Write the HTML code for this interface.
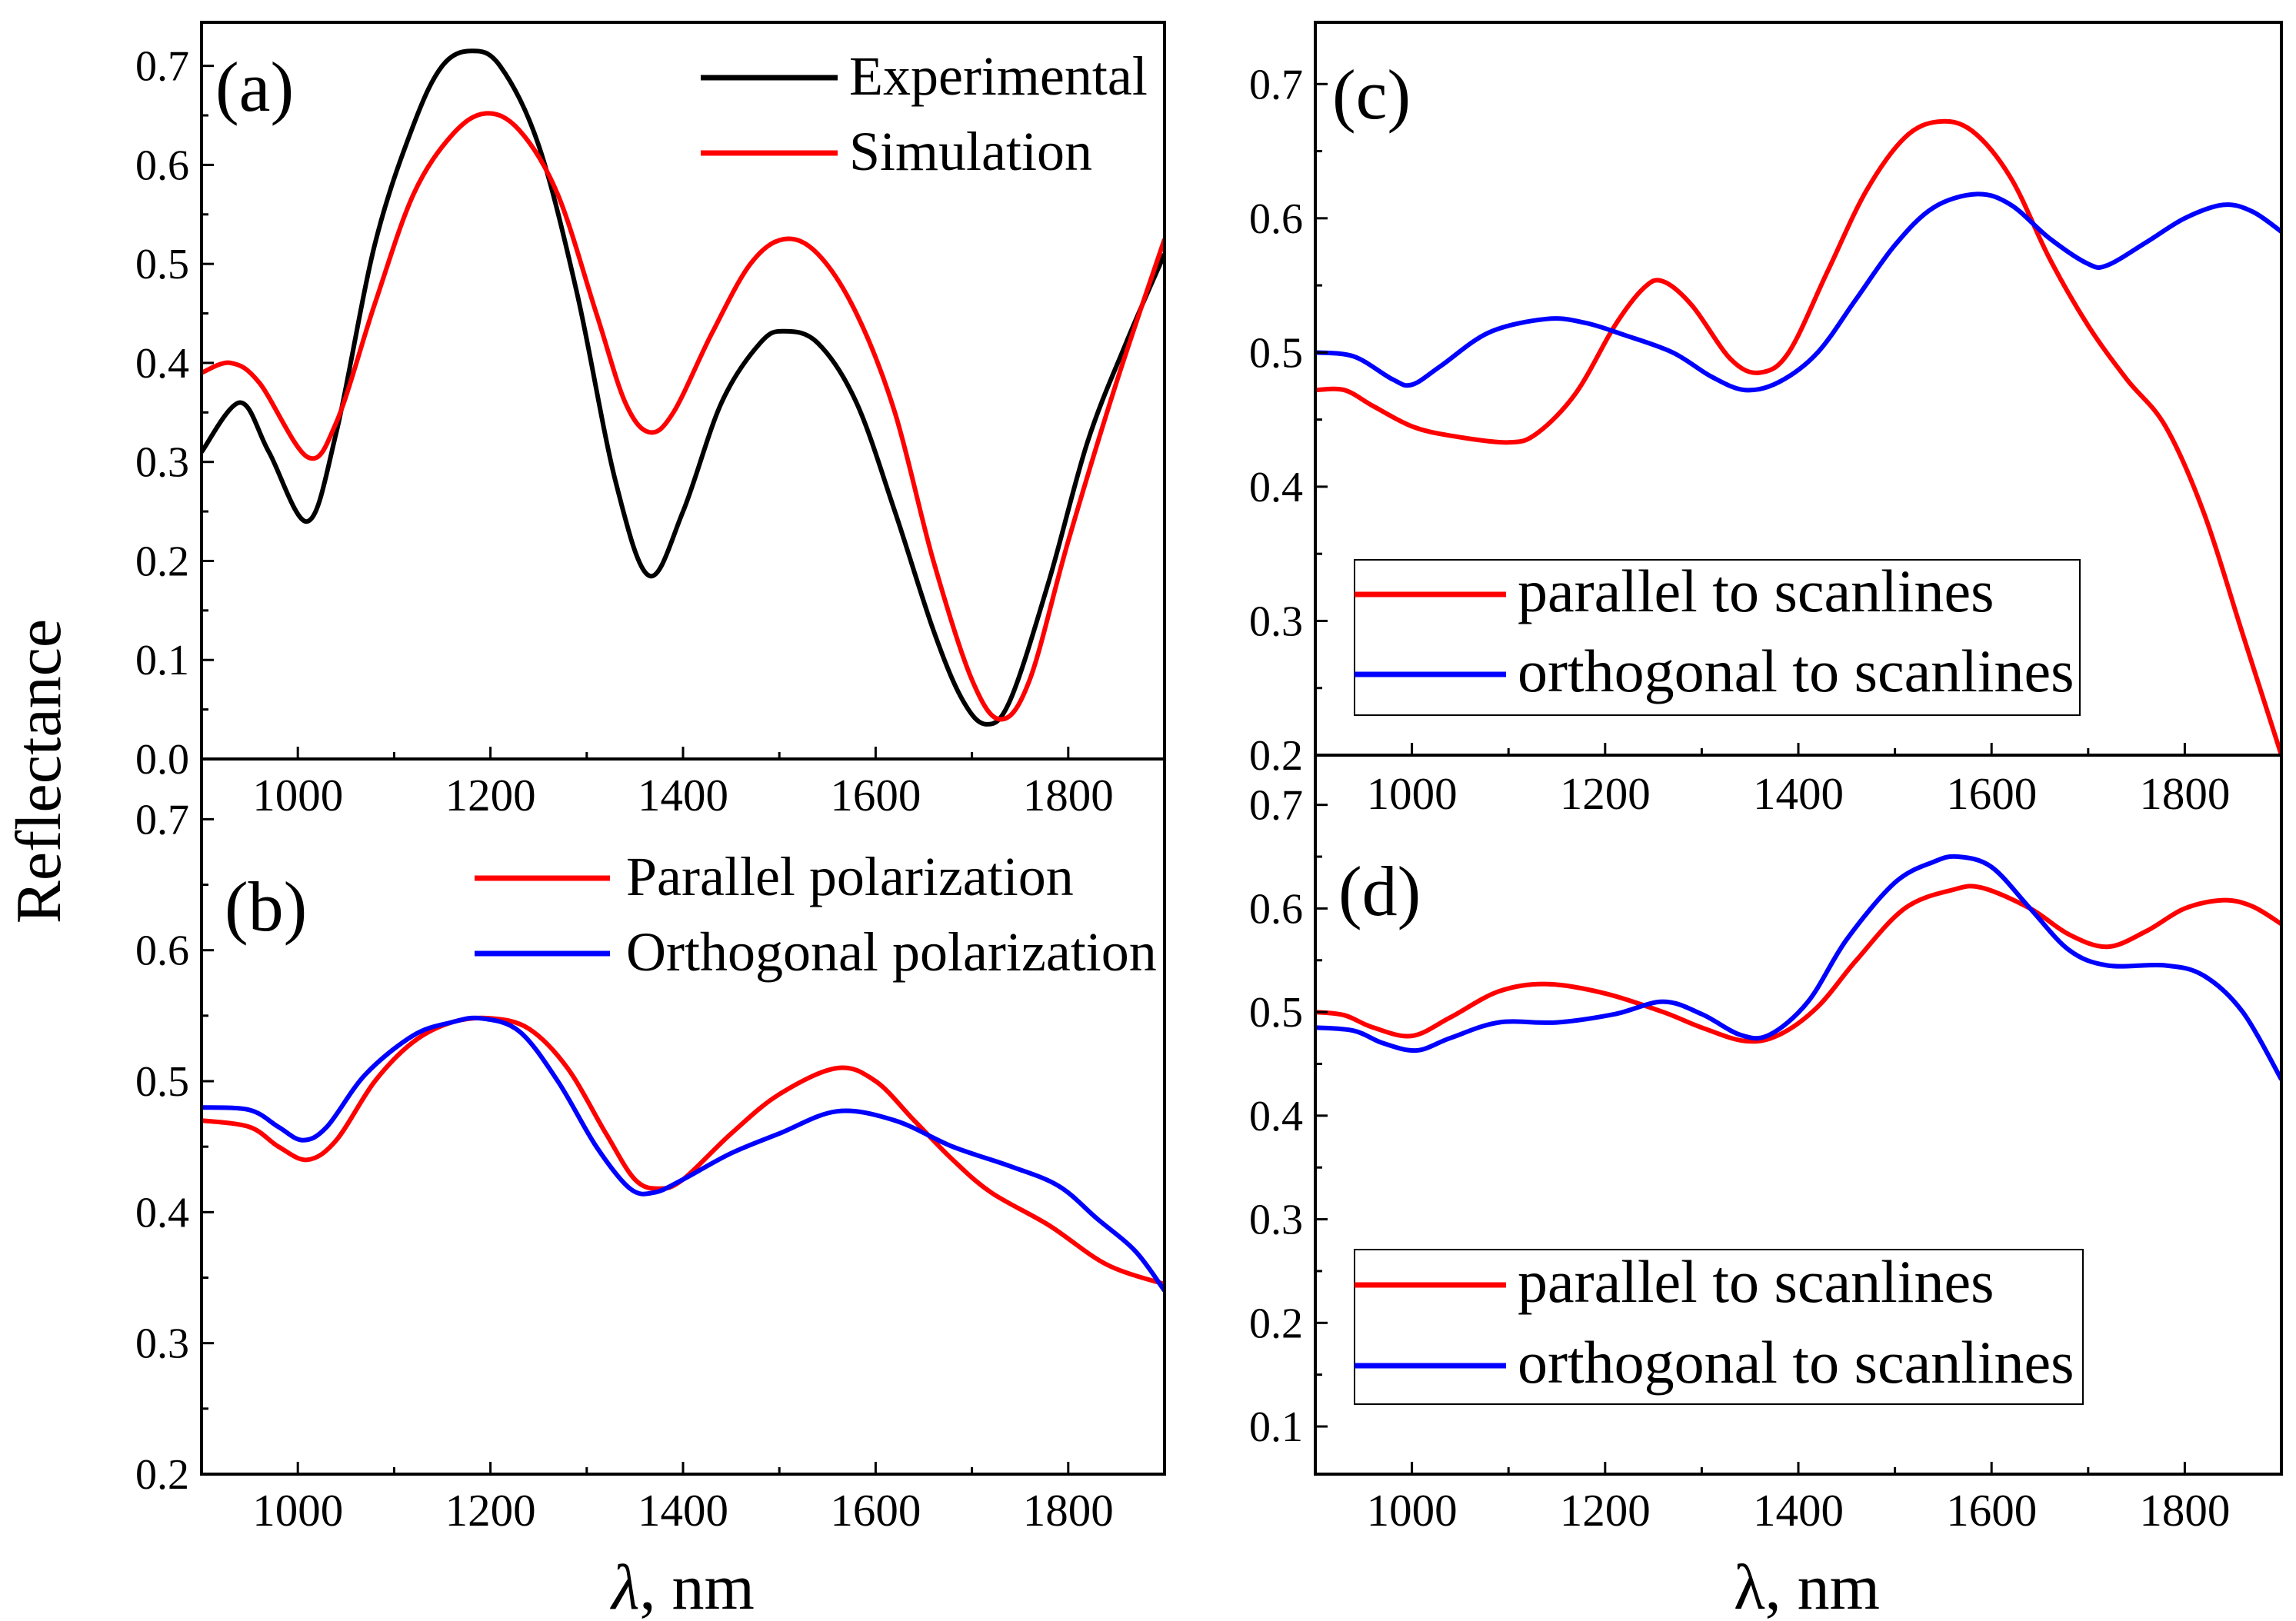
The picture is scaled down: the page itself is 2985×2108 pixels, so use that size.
<!DOCTYPE html>
<html><head><meta charset="utf-8"><style>
html,body{margin:0;padding:0;background:#fff}
svg{display:block}
text{font-family:"Liberation Serif",serif;fill:#000}
</style></head><body>
<svg id="chart" width="2985" height="2108" viewBox="0 0 2985 2108" xmlns="http://www.w3.org/2000/svg">
<text x="0" y="0" font-size="84" text-anchor="middle" transform="translate(78,1003) rotate(-90)">Reflectance</text>
<text x="888" y="2092" font-size="84" text-anchor="middle"><tspan font-style="italic">λ</tspan>, nm</text>
<text x="2349" y="2092" font-size="84" text-anchor="middle">λ, nm</text>
</svg>
<script>
// ---- data ----
const aExpX=[900,940,970,1010,1040,1080,1120,1150,1180,1210,1250,1290,1330,1365,1400,1440,1480,1505,1540,1580,1620,1660,1690,1715,1740,1780,1820,1860,1900];
const aExpY=[0.31,0.36,0.31,0.24,0.33,0.52,0.64,0.70,0.715,0.70,0.62,0.47,0.28,0.185,0.25,0.36,0.42,0.432,0.42,0.36,0.25,0.13,0.06,0.035,0.06,0.18,0.32,0.42,0.51];
const aSimX=[900,930,960,1010,1040,1080,1120,1160,1195,1230,1270,1310,1340,1365,1390,1430,1470,1505,1540,1580,1620,1660,1700,1730,1760,1800,1850,1900];
const aSimY=[0.39,0.40,0.38,0.305,0.34,0.46,0.57,0.63,0.652,0.635,0.57,0.45,0.36,0.33,0.35,0.43,0.50,0.525,0.51,0.45,0.35,0.20,0.08,0.04,0.08,0.22,0.38,0.525];
const bParX=[900,950,980,1010,1040,1080,1120,1160,1200,1240,1280,1320,1350,1375,1400,1450,1500,1560,1600,1640,1680,1720,1780,1840,1900];
const bParY=[0.47,0.465,0.45,0.44,0.455,0.50,0.53,0.545,0.548,0.54,0.51,0.46,0.425,0.418,0.425,0.46,0.49,0.51,0.50,0.47,0.44,0.415,0.39,0.36,0.345];
const bOrtX=[900,950,980,1005,1030,1070,1120,1160,1190,1230,1270,1310,1345,1370,1400,1450,1500,1560,1620,1680,1740,1790,1830,1870,1900];
const bOrtY=[0.48,0.478,0.465,0.455,0.465,0.505,0.535,0.545,0.548,0.538,0.50,0.45,0.418,0.415,0.425,0.445,0.46,0.477,0.47,0.45,0.435,0.42,0.395,0.37,0.34];
const cParX=[900,930,960,1000,1040,1100,1130,1170,1210,1240,1260,1290,1330,1360,1390,1430,1470,1510,1545,1580,1620,1660,1700,1740,1780,1820,1860,1900];
const cParY=[0.472,0.472,0.46,0.445,0.438,0.433,0.44,0.47,0.52,0.548,0.553,0.535,0.495,0.485,0.5,0.56,0.62,0.66,0.672,0.665,0.63,0.57,0.52,0.48,0.445,0.38,0.29,0.2];
const cOrtX=[900,940,980,1000,1030,1080,1140,1180,1220,1270,1310,1345,1380,1420,1460,1500,1540,1585,1620,1660,1700,1720,1760,1800,1840,1870,1900];
const cOrtY=[0.5,0.497,0.48,0.476,0.49,0.515,0.525,0.522,0.513,0.5,0.482,0.472,0.478,0.5,0.54,0.58,0.608,0.618,0.61,0.585,0.566,0.565,0.582,0.6,0.61,0.605,0.59];
const dParX=[900,930,960,1000,1040,1090,1140,1200,1260,1300,1345,1380,1420,1460,1510,1560,1590,1640,1680,1720,1760,1800,1840,1870,1900];
const dParY=[0.5,0.497,0.485,0.477,0.495,0.52,0.527,0.518,0.5,0.485,0.472,0.478,0.505,0.55,0.6,0.618,0.62,0.6,0.575,0.563,0.578,0.6,0.608,0.602,0.585];
const dOrtX=[900,940,970,1005,1040,1090,1150,1210,1260,1300,1340,1370,1410,1450,1500,1540,1565,1600,1640,1680,1720,1780,1820,1860,1900];
const dOrtY=[0.485,0.482,0.47,0.463,0.475,0.49,0.49,0.498,0.51,0.498,0.478,0.478,0.51,0.57,0.625,0.645,0.65,0.64,0.6,0.56,0.545,0.545,0.535,0.5,0.435];
const xTicks=[1000,1200,1400,1600,1800];
const yTicksA=[0,0.1,0.2,0.3,0.4,0.5,0.6,0.7];
const yTicksB=[0.2,0.3,0.4,0.5,0.6,0.7];
const yTicksC=[0.2,0.3,0.4,0.5,0.6,0.7];
const yTicksD=[0.1,0.2,0.3,0.4,0.5,0.6,0.7];

const NS='http://www.w3.org/2000/svg';
const svg=document.getElementById('chart');
function mk(tag,attrs,parent){const e=document.createElementNS(NS,tag);for(const k in attrs)e.setAttribute(k,attrs[k]);(parent||svg).appendChild(e);return e;}
function smooth(pts){let d='M'+pts[0][0].toFixed(1)+','+pts[0][1].toFixed(1);
 for(let i=0;i<pts.length-1;i++){const p0=pts[Math.max(0,i-1)],p1=pts[i],p2=pts[i+1],p3=pts[Math.min(pts.length-1,i+2)];
  const c1=[p1[0]+(p2[0]-p0[0])/6,p1[1]+(p2[1]-p0[1])/6],c2=[p2[0]-(p3[0]-p1[0])/6,p2[1]-(p3[1]-p1[1])/6];
  d+='C'+c1[0].toFixed(1)+','+c1[1].toFixed(1)+' '+c2[0].toFixed(1)+','+c2[1].toFixed(1)+' '+p2[0].toFixed(1)+','+p2[1].toFixed(1);}
 return d;}
function panel(p){
 const g=mk('g',{});
 
 
 const sx=v=>p.x0+(v-900)/1000*(p.x1-p.x0);
 const sy=v=>p.y1-(v-p.ymin)/(p.ymax-p.ymin)*(p.y1-p.y0);
 const cp=mk('clipPath',{id:'clip'+p.id},g);mk('rect',{x:p.x0,y:p.y0,width:p.x1-p.x0,height:p.y1-p.y0},cp);
 if(p.box){const b=mk('rect',{x:p.box[0],y:p.box[1],width:p.box[2],height:p.box[3],fill:'#fff',stroke:'#000','stroke-width':2},g);
  
  }
 p.series.forEach(s=>{
  const pts=s.x.map((v,i)=>[sx(v),sy(s.y[i])]);
  const path=mk('path',{d:smooth(pts),fill:'none',stroke:s.c,'stroke-width':6,'clip-path':'url(#clip'+p.id+')'},g);
  
  
 });
 const fr=mk('rect',{x:p.x0,y:p.y0,width:p.x1-p.x0,height:p.y1-p.y0,fill:'none',stroke:'#000','stroke-width':4},g);
 
 
 for(let v=900;v<=1900;v+=100){const X=sx(v),L=(v%200===0)?16:9;mk('line',{x1:X,x2:X,y1:p.y1,y2:p.y1-L,stroke:'#000','stroke-width':3},g);}
 xTicks.forEach(v=>{const t=mk('text',{x:sx(v),y:p.xlabY,'font-size':59,'text-anchor':'middle'},g);t.textContent=v;
  
  });
 for(let v=p.ticks[0];v<=p.ymax+1e-9;v+=0.05){const Y=sy(v);const maj=Math.abs(Math.round(v*10)-v*10)<1e-6;mk('line',{x1:p.x0,x2:p.x0+(maj?16:9),y1:Y,y2:Y,stroke:'#000','stroke-width':3},g);}
 p.ticks.forEach(v=>{const t=mk('text',{x:p.x0-16,y:sy(v)+19,'font-size':56,'text-anchor':'end'},g);t.textContent=v.toFixed(1);
  
  });
 const lab=mk('text',{x:p.lx,y:p.ly,'font-size':92},g);lab.textContent='('+p.id+')';
 
 
 p.series.forEach((s,i)=>{const Y=p.leg.y[i];
  const l=mk('line',{x1:p.leg.x1,x2:p.leg.x2,y1:Y,y2:Y,stroke:s.c,'stroke-width':7},g);
  
  
  const t=mk('text',{x:p.leg.tx,y:Y+22,'font-size':p.leg.fs},g);t.textContent=s.label;
  
  });
}
panel({id:'a',x0:262,x1:1514,y0:29,y1:987,ymin:0,ymax:0.744,ticks:yTicksA,xlabY:1054,lx:280,ly:144,
 series:[{n:'experimental',x:aExpX,y:aExpY,c:'#000',label:'Experimental'},{n:'simulation',x:aSimX,y:aSimY,c:'#f00',label:'Simulation'}],
 leg:{x1:911,x2:1089,tx:1104,y:[101,199],fs:72}});
panel({id:'b',x0:262,x1:1514,y0:987,y1:1917,ymin:0.2,ymax:0.746,ticks:yTicksB,xlabY:1984,lx:292,ly:1210,
 series:[{n:'parallel-polarization',x:bParX,y:bParY,c:'#f00',label:'Parallel polarization'},{n:'orthogonal-polarization',x:bOrtX,y:bOrtY,c:'#00f',label:'Orthogonal polarization'}],
 leg:{x1:617,x2:793,tx:814,y:[1142,1240],fs:72}});
panel({id:'c',x0:1710,x1:2966,y0:29,y1:982,ymin:0.2,ymax:0.746,ticks:yTicksC,xlabY:1052,lx:1732,ly:154,box:[1761,728,943,202],
 series:[{n:'parallel-to-scanlines-c',x:cParX,y:cParY,c:'#f00',label:'parallel to scanlines'},{n:'orthogonal-to-scanlines-c',x:cOrtX,y:cOrtY,c:'#00f',label:'orthogonal to scanlines'}],
 leg:{x1:1761,x2:1958,tx:1973,y:[773,877],fs:78}});
panel({id:'d',x0:1710,x1:2966,y0:982,y1:1917,ymin:0.054,ymax:0.748,ticks:yTicksD,xlabY:1984,lx:1740,ly:1190,box:[1761,1625,947,201],
 series:[{n:'parallel-to-scanlines-d',x:dParX,y:dParY,c:'#f00',label:'parallel to scanlines'},{n:'orthogonal-to-scanlines-d',x:dOrtX,y:dOrtY,c:'#00f',label:'orthogonal to scanlines'}],
 leg:{x1:1761,x2:1958,tx:1973,y:[1671,1776],fs:78}});
</script>
</body></html>
